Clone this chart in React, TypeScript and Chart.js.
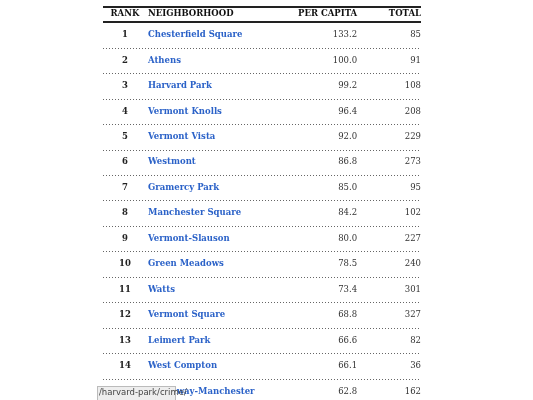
import { useEffect, useRef } from 'react'
import Chart from 'chart.js/auto'

const ranks = [1, 2, 3, 4, 5, 6, 7, 8, 9, 10, 11, 12, 13, 14, 15]
const neighborhoods = [
  'Chesterfield Square', 'Athens', 'Harvard Park', 'Vermont Knolls', 'Vermont Vista',
  'Westmont', 'Gramercy Park', 'Manchester Square', 'Vermont-Slauson', 'Green Meadows',
  'Watts', 'Vermont Square', 'Leimert Park', 'West Compton', 'Broadway-Manchester',
]
const perCapita = [133.2, 100.0, 99.2, 96.4, 92.0, 86.8, 85.0, 84.2, 80.0, 78.5, 73.4, 68.8, 66.6, 66.1, 62.8]
const totals = [85, 91, 108, 208, 229, 273, 95, 102, 227, 240, 301, 327, 82, 36, 162]
const headers = ['RANK', 'NEIGHBORHOOD', 'PER CAPITA', 'TOTAL']

const serif = '"DejaVu Serif", Georgia, serif'

export default function App() {
  const ref = useRef<HTMLCanvasElement>(null)

  useEffect(() => {
    if (!ref.current) return

    const tablePlugin = {
      id: 'table',
      afterDraw(chart: any) {
        const ctx = chart.ctx
        const x = chart.scales.x
        const y = chart.scales.y
        const left = x.getPixelForValue(0)
        const right = x.getPixelForValue(1)
        const cols = [0.069, 0.1415, 0.799, 1.0].map(v => x.getPixelForValue(v))
        const aligns: CanvasTextAlign[] = ['center', 'left', 'right', 'right']
        ctx.save()
        ctx.textBaseline = 'middle'

        // rules
        ctx.strokeStyle = '#222'
        ctx.lineWidth = 2
        for (const v of [-0.1, 0.5]) {
          const py = Math.round(y.getPixelForValue(v))
          ctx.beginPath(); ctx.moveTo(left, py); ctx.lineTo(right, py); ctx.stroke()
        }
        ctx.strokeStyle = '#666'
        ctx.lineWidth = 1
        ctx.setLineDash([1, 2])
        ranks.forEach((_, i) => {
          const py = Math.round(y.getPixelForValue(i + 1.5)) + 0.5
          ctx.beginPath(); ctx.moveTo(left, py); ctx.lineTo(right, py); ctx.stroke()
        })
        ctx.setLineDash([])

        // header
        ctx.fillStyle = '#111'
        ctx.font = `bold 8.5px ${serif}`
        headers.forEach((h, c) => {
          ctx.textAlign = aligns[c]
          ctx.fillText(h, cols[c], y.getPixelForValue(0.17))
        })

        // rows
        ranks.forEach((r, i) => {
          const py = y.getPixelForValue(i + 1)
          ctx.font = `bold 8.5px ${serif}`
          ctx.fillStyle = '#222'
          ctx.textAlign = 'center'
          ctx.fillText(String(r), cols[0], py)
          ctx.fillStyle = '#2b62c8'
          ctx.textAlign = 'left'
          ctx.fillText(neighborhoods[i], cols[1], py)
          ctx.font = `8.5px ${serif}`
          ctx.fillStyle = '#333'
          ctx.textAlign = 'right'
          ctx.fillText(perCapita[i].toFixed(1), cols[2], py)
          ctx.fillText(String(totals[i]), cols[3], py)
        })

        // status bar overlay
        ctx.fillStyle = '#eeeeee'
        ctx.fillRect(97, 386, 78, 14)
        ctx.strokeStyle = '#bbb'
        ctx.strokeRect(97.5, 386.5, 78, 14)
        ctx.fillStyle = '#444'
        ctx.font = '8.5px "DejaVu Sans", sans-serif'
        ctx.textAlign = 'left'
        ctx.fillText('/harvard-park/crime/', 99, 393)
        ctx.restore()
      },
    }

    const chart = new Chart(ref.current, {
      type: 'scatter',
      data: { datasets: [{ data: [], pointRadius: 0 }] },
      options: {
        animation: false,
        responsive: false,
        events: [],
        layout: { padding: { left: 103, right: 112, top: 6, bottom: 0 } },
        plugins: { legend: { display: false }, tooltip: { enabled: false } },
        scales: {
          x: { type: 'linear', min: 0, max: 1, display: false },
          y: { type: 'linear', min: -0.14, max: 15.34, reverse: true, display: false },
        },
      },
      plugins: [tablePlugin],
    })

    return () => chart.destroy()
  }, [])

  return (
    <canvas
      ref={ref}
      width={533}
      height={400}
      style={{ position: 'absolute', left: 0, top: 0, background: '#fff' }}
    />
  )
}
